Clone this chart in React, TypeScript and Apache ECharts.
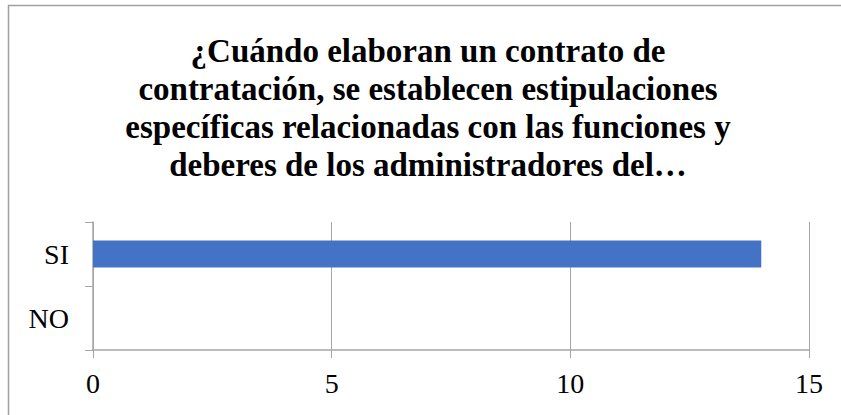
import React, { useEffect, useRef } from "react";
import * as echarts from "echarts";

const categories = ["NO", "SI"];
const values = [0, 14];
const xTicks = { min: 0, max: 15, interval: 5 };
const titleLines = [
  "¿Cuándo elaboran un contrato de",
  "contratación, se establecen estipulaciones",
  "específicas relacionadas con las funciones y",
  "deberes de los administradores del…",
];

export default function App() {
  const ref = useRef<HTMLDivElement>(null);
  useEffect(() => {
    if (!ref.current) return;
    const chart = echarts.init(ref.current, undefined, { renderer: "svg" });
    const font = "Liberation Serif";
    chart.setOption({
      animation: false,
      backgroundColor: "#ffffff",
      title: {
        text: titleLines.join("\n"),
        left: 423,
        textAlign: "center",
        top: 27,
        textStyle: {
          fontFamily: font,
          fontWeight: "bold",
          fontSize: 33,
          lineHeight: 38,
          color: "#000000",
        },
      },
      graphic: [
        {
          type: "polyline",
          shape: { points: [[8.5, 415], [8.5, 5.5], [841, 5.5]] },
          style: { stroke: "#a0a0a0", lineWidth: 1.5, fill: "none" },
          silent: true,
        },
      ],
      grid: { left: 93, right: 32, top: 222, bottom: 65 },
      xAxis: {
        type: "value",
        min: xTicks.min,
        max: xTicks.max,
        interval: xTicks.interval,
        axisLine: { show: true, lineStyle: { color: "#a6a6a6", width: 1.5 } },
        axisTick: { show: true, length: 8, lineStyle: { color: "#a6a6a6" } },
        splitLine: { show: true, lineStyle: { color: "#a6a6a6", width: 1 } },
        axisLabel: { fontFamily: font, fontSize: 28, color: "#000000", margin: 19 },
      },
      yAxis: {
        type: "category",
        data: categories,
        axisLine: { show: true, lineStyle: { color: "#a6a6a6", width: 1.5 } },
        axisTick: { show: true, length: 8, lineStyle: { color: "#a6a6a6" } },
        axisLabel: { fontFamily: font, fontSize: 28, color: "#000000", margin: 24 },
      },
      series: [
        {
          type: "bar",
          data: values,
          barWidth: 27,
          itemStyle: { color: "#4472C4" },
        },
      ],
    });
    return () => chart.dispose();
  }, []);
  return (
    <div
      ref={ref}
      style={{ position: "fixed", left: 0, top: 0, width: 841, height: 415 }}
    />
  );
}
